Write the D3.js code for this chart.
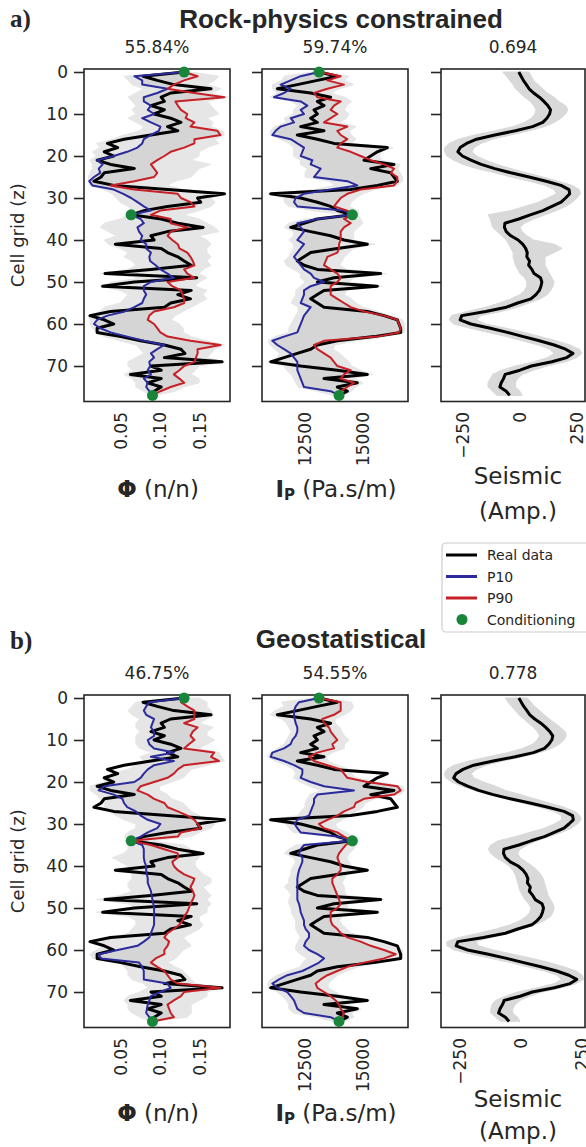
<!DOCTYPE html>
<html>
<head>
<meta charset="utf-8">
<script src="https://cdn.jsdelivr.net/npm/d3@7"></script>
<style>
  body { margin: 0; background: #fff; }
  svg { display: block; }
  text { font-family: 'DejaVu Sans', sans-serif; fill: #262626; }
</style>
</head>
<body>
<svg id="fig" width="586" height="1147"></svg>
<script>
// cell index 0..77 down the well
const cells = d3.range(78)

// real data (same in both panels)
const realPhi = [
  0.131, 0.079, 0.097, 0.118, 0.165, 0.114, 0.102, 0.106, 0.089, 0.106,
  0.093, 0.114, 0.127, 0.110, 0.123, 0.089, 0.055, 0.034, 0.047, 0.030,
  0.042, 0.021, 0.038, 0.068, 0.030, 0.026, 0.017, 0.042, 0.110, 0.182,
  0.148, 0.152, 0.110, 0.080, 0.064, 0.102, 0.123, 0.155, 0.110, 0.089,
  0.093, 0.044, 0.102, 0.110, 0.123, 0.131, 0.140, 0.089, 0.031, 0.147,
  0.068, 0.028, 0.140, 0.123, 0.139, 0.114, 0.106, 0.038, 0.012, 0.030,
  0.042, 0.021, 0.021, 0.051, 0.076, 0.106, 0.127, 0.132, 0.106, 0.179,
  0.089, 0.102, 0.063, 0.102, 0.085, 0.102, 0.093, 0.091]
const realIp = [
  13104, 13894, 13032, 12169, 11307, 12744, 13606, 13032, 13319, 12888,
  13032, 12744, 13032, 12313, 13319, 12169, 13032, 13750, 16049, 15618,
  15331, 15043, 16337, 15331, 16193, 16337, 16480, 15618, 14469, 11020,
  12313, 13032, 13606, 13894, 14541, 13032, 12457, 11882, 12744, 13606,
  14181, 15187, 13894, 12744, 12457, 12169, 12457, 13032, 15762, 13750,
  13032, 15618, 13319, 13032, 12744, 13032, 13319, 15187, 15906, 16480,
  16552, 16624, 16624, 15475, 13894, 13032, 12744, 12169, 11595, 11020,
  12313, 13894, 15187, 13319, 14756, 13894, 14325, 13966]
const realSeis = [
  -5, 5, 15, 28, 40, 60, 85, 105, 122, 134,
  130, 118, 100, 55, -20, -110, -190, -234, -262, -272,
  -252, -215, -170, -110, -40, 40, 115, 180, 215, 218,
  200, 180, 140, 100, 45, -5, -66, -68, -60, -40,
  -8, 12, 25, 32, 30, 42, 38, 52, 62, 90,
  96, 92, 85, 70, 48, -10, -60, -150, -255, -262,
  -215, -130, -55, 15, 85, 150, 200, 232, 205, 140,
  50, 0, -65, -72, -82, -88, -60, -45]

// conditioning points
const condCells = [0, 34, 77]
const condPhi = [0.131, 0.064, 0.091]
const condIp = [13104, 14541, 13966]

// a) rock-physics constrained
const aPhiP10 = [
  0.131, 0.068, 0.078, 0.078, 0.110, 0.097, 0.080, 0.080, 0.089, 0.085,
  0.093, 0.078, 0.089, 0.101, 0.099, 0.089, 0.080, 0.078, 0.072, 0.059,
  0.042, 0.021, 0.028, 0.023, 0.025, 0.017, 0.011, 0.015, 0.042, 0.054,
  0.064, 0.072, 0.080, 0.089, 0.064, 0.076, 0.080, 0.072, 0.074, 0.078,
  0.076, 0.083, 0.083, 0.089, 0.087, 0.088, 0.095, 0.101, 0.110, 0.118,
  0.089, 0.080, 0.080, 0.083, 0.080, 0.078, 0.068, 0.056, 0.034, 0.021,
  0.017, 0.025, 0.038, 0.059, 0.080, 0.106, 0.097, 0.089, 0.093, 0.087,
  0.088, 0.085, 0.089, 0.080, 0.085, 0.083, 0.087, 0.091]
const aPhiP90 = [
  0.131, 0.148, 0.131, 0.118, 0.110, 0.144, 0.182, 0.120, 0.123, 0.127,
  0.135, 0.133, 0.144, 0.139, 0.173, 0.177, 0.144, 0.144, 0.131, 0.114,
  0.106, 0.097, 0.089, 0.093, 0.097, 0.093, 0.068, 0.038, 0.068, 0.123,
  0.127, 0.139, 0.144, 0.101, 0.089, 0.114, 0.114, 0.135, 0.114, 0.110,
  0.116, 0.123, 0.125, 0.135, 0.139, 0.142, 0.144, 0.131, 0.135, 0.144,
  0.110, 0.116, 0.127, 0.129, 0.131, 0.131, 0.118, 0.093, 0.087, 0.085,
  0.093, 0.097, 0.101, 0.110, 0.139, 0.177, 0.148, 0.148, 0.146, 0.144,
  0.131, 0.125, 0.118, 0.125, 0.131, 0.114, 0.101, 0.091]
const aPhiSimMin = [
  0.120, 0.055, 0.060, 0.065, 0.080, 0.070, 0.060, 0.065, 0.070, 0.065,
  0.070, 0.060, 0.070, 0.080, 0.075, 0.055, 0.040, 0.020, 0.025, 0.015,
  0.020, 0.012, 0.015, 0.015, 0.012, 0.010, 0.010, 0.012, 0.030, 0.040,
  0.045, 0.050, 0.060, 0.065, 0.060, 0.050, 0.030, 0.025, 0.035, 0.045,
  0.030, 0.035, 0.050, 0.060, 0.055, 0.065, 0.070, 0.060, 0.025, 0.080,
  0.040, 0.025, 0.050, 0.060, 0.055, 0.050, 0.030, 0.025, 0.010, 0.012,
  0.012, 0.015, 0.020, 0.030, 0.050, 0.070, 0.075, 0.080, 0.070, 0.060,
  0.060, 0.065, 0.055, 0.065, 0.070, 0.070, 0.080, 0.088]
const aPhiSimMax = [
  0.140, 0.175, 0.170, 0.160, 0.178, 0.165, 0.185, 0.160, 0.165, 0.170,
  0.175, 0.160, 0.168, 0.165, 0.180, 0.182, 0.170, 0.175, 0.160, 0.150,
  0.150, 0.140, 0.165, 0.150, 0.145, 0.140, 0.120, 0.110, 0.130, 0.185,
  0.165, 0.170, 0.165, 0.150, 0.130, 0.150, 0.160, 0.170, 0.175, 0.150,
  0.160, 0.165, 0.160, 0.160, 0.165, 0.160, 0.165, 0.155, 0.150, 0.160,
  0.150, 0.145, 0.160, 0.155, 0.160, 0.150, 0.140, 0.130, 0.120, 0.115,
  0.125, 0.130, 0.130, 0.140, 0.160, 0.182, 0.170, 0.165, 0.160, 0.182,
  0.150, 0.145, 0.140, 0.150, 0.150, 0.130, 0.120, 0.095]
const aIpP10 = [
  13104, 12313, 11882, 11451, 11882, 11595, 11164, 12313, 12601, 12313,
  12457, 11882, 12026, 11451, 11235, 11092, 11882, 12169, 12457, 12385,
  12313, 12816, 12744, 13175, 13032, 12888, 14325, 14756, 13606, 12457,
  12098, 12026, 12169, 14181, 14541, 13032, 12169, 12313, 12457, 12313,
  12169, 12457, 12313, 12169, 12026, 12169, 12313, 12457, 12744, 12888,
  13319, 12744, 12457, 12457, 12385, 12313, 12744, 12601, 12457, 12385,
  12313, 12241, 12169, 11595, 11092, 11307, 11595, 11882, 12026, 12169,
  12169, 12169, 12241, 12313, 12385, 12457, 13606, 13966]
const aIpP90 = [
  13104, 14038, 13463, 14181, 13463, 12888, 13032, 14038, 13750, 13606,
  13894, 13606, 13319, 14325, 13894, 14038, 14325, 14038, 13894, 14469,
  14900, 15331, 15906, 16337, 16193, 16480, 16480, 16337, 14900, 14325,
  14038, 13894, 13750, 14325, 14541, 14181, 14469, 14181, 14038, 14038,
  14038, 13966, 13966, 13894, 13463, 13391, 13319, 13606, 13894, 14038,
  13894, 13606, 13606, 13606, 13894, 14181, 14469, 15043, 15906, 16480,
  16552, 16624, 16552, 15618, 13319, 12888, 13032, 13319, 13606, 13750,
  13894, 14469, 14181, 14038, 14612, 14325, 14038, 13966]
const aIpSimMin = [
  12800, 11600, 11500, 11100, 11100, 11300, 11000, 11900, 12200, 12000,
  12000, 11600, 11700, 11200, 11000, 11000, 11400, 11800, 12000, 12000,
  12000, 12300, 12300, 12600, 12500, 12500, 13500, 13800, 12900, 10900,
  11600, 11600, 11800, 12800, 14200, 12500, 11800, 11600, 12000, 12000,
  11800, 12000, 12000, 11900, 11800, 11600, 11700, 12000, 12300, 12300,
  12500, 12300, 12100, 12100, 12000, 11900, 12200, 12200, 12100, 12000,
  11900, 11800, 11800, 11200, 10900, 11000, 11200, 11400, 11300, 10900,
  11600, 11700, 11900, 12000, 12100, 12200, 13000, 13700]
const aIpSimMax = [
  13400, 14400, 14200, 14600, 14000, 13600, 14200, 14500, 14300, 14200,
  14400, 14300, 14000, 14700, 14400, 14500, 14700, 14500, 16300, 15800,
  15700, 15800, 16600, 16500, 16600, 16700, 16700, 16500, 15500, 15000,
  14700, 14500, 14400, 14800, 14800, 14900, 15000, 14800, 14600, 14600,
  14600, 15500, 14600, 14400, 14200, 14100, 14000, 14300, 16000, 14600,
  14400, 15800, 14300, 14200, 14500, 14700, 15000, 15600, 16200, 16700,
  16800, 16800, 16800, 16000, 14700, 13800, 13700, 14000, 14200, 14400,
  14500, 14900, 15400, 14600, 15000, 14700, 14500, 14100]
const aSeisSimMin = [
  -75, -60, -45, -30, -20, 0, 20, 45, 60, 70,
  65, 50, 20, -30, -110, -200, -270, -310, -330, -330,
  -320, -290, -250, -190, -110, -40, 40, 110, 150, 160,
  120, 80, 20, -40, -140, -130, -125, -120, -100, -80,
  -60, -50, -40, -30, -30, -25, -20, -10, 0, 20,
  30, 30, 20, 0, -40, -90, -150, -230, -300, -310,
  -290, -220, -140, -60, 10, 80, 130, 150, 120, 60,
  -20, -80, -120, -130, -140, -140, -120, -100]
const aSeisSimMax = [
  40, 50, 60, 80, 100, 120, 150, 170, 200, 210,
  200, 180, 150, 110, 40, -40, -120, -170, -200, -210,
  -190, -150, -100, -40, 30, 100, 170, 230, 260, 265,
  250, 230, 200, 160, 110, 60, 20, 0, 10, 30,
  60, 150, 185, 150, 110, 110, 110, 120, 130, 140,
  150, 145, 135, 120, 90, 40, -10, -80, -170, -190,
  -150, -60, 20, 90, 160, 220, 260, 270, 250, 200,
  120, 60, 10, -10, -20, -20, 0, 10]

// b) geostatistical
const bPhiP10 = [
  0.131, 0.087, 0.083, 0.080, 0.083, 0.093, 0.091, 0.089, 0.093, 0.093,
  0.085, 0.087, 0.093, 0.118, 0.089, 0.118, 0.093, 0.085, 0.080, 0.076,
  0.068, 0.030, 0.023, 0.042, 0.053, 0.055, 0.059, 0.070, 0.076, 0.085,
  0.101, 0.097, 0.085, 0.076, 0.064, 0.078, 0.080, 0.080, 0.080, 0.081,
  0.083, 0.083, 0.084, 0.085, 0.085, 0.087, 0.089, 0.090, 0.091, 0.092,
  0.093, 0.093, 0.093, 0.093, 0.093, 0.091, 0.089, 0.087, 0.080, 0.072,
  0.047, 0.023, 0.026, 0.074, 0.078, 0.080, 0.080, 0.080, 0.110, 0.114,
  0.101, 0.089, 0.087, 0.085, 0.084, 0.083, 0.087, 0.091]
const bPhiP90 = [
  0.131, 0.127, 0.135, 0.144, 0.144, 0.144, 0.131, 0.148, 0.142, 0.139,
  0.144, 0.137, 0.131, 0.169, 0.165, 0.175, 0.131, 0.123, 0.118, 0.110,
  0.093, 0.076, 0.072, 0.085, 0.093, 0.106, 0.110, 0.123, 0.135, 0.144,
  0.148, 0.152, 0.127, 0.123, 0.064, 0.089, 0.106, 0.123, 0.123, 0.116,
  0.118, 0.123, 0.131, 0.144, 0.142, 0.139, 0.142, 0.144, 0.142, 0.139,
  0.137, 0.135, 0.131, 0.129, 0.125, 0.118, 0.110, 0.106, 0.112, 0.110,
  0.106, 0.106, 0.095, 0.089, 0.097, 0.106, 0.110, 0.114, 0.123, 0.177,
  0.131, 0.127, 0.118, 0.110, 0.112, 0.114, 0.118, 0.091]
const bPhiSimMin = [
  0.120, 0.070, 0.065, 0.060, 0.065, 0.075, 0.070, 0.070, 0.075, 0.070,
  0.070, 0.070, 0.075, 0.090, 0.075, 0.080, 0.070, 0.060, 0.040, 0.030,
  0.030, 0.012, 0.012, 0.020, 0.025, 0.030, 0.030, 0.035, 0.045, 0.055,
  0.070, 0.070, 0.060, 0.055, 0.060, 0.060, 0.060, 0.055, 0.040, 0.050,
  0.060, 0.060, 0.065, 0.065, 0.060, 0.060, 0.065, 0.050, 0.020, 0.060,
  0.070, 0.020, 0.060, 0.070, 0.070, 0.065, 0.060, 0.040, 0.010, 0.030,
  0.020, 0.012, 0.015, 0.050, 0.055, 0.060, 0.060, 0.065, 0.080, 0.085,
  0.075, 0.060, 0.055, 0.060, 0.060, 0.065, 0.075, 0.088]
const bPhiSimMax = [
  0.150, 0.160, 0.160, 0.165, 0.168, 0.160, 0.150, 0.168, 0.160, 0.160,
  0.170, 0.160, 0.150, 0.175, 0.178, 0.182, 0.160, 0.140, 0.135, 0.130,
  0.115, 0.100, 0.100, 0.110, 0.115, 0.130, 0.135, 0.140, 0.150, 0.160,
  0.170, 0.165, 0.150, 0.140, 0.090, 0.130, 0.140, 0.150, 0.150, 0.145,
  0.145, 0.150, 0.155, 0.165, 0.165, 0.155, 0.160, 0.165, 0.160, 0.165,
  0.160, 0.160, 0.150, 0.150, 0.155, 0.150, 0.140, 0.130, 0.135, 0.140,
  0.130, 0.125, 0.120, 0.110, 0.120, 0.130, 0.135, 0.140, 0.145, 0.180,
  0.160, 0.160, 0.150, 0.140, 0.140, 0.140, 0.135, 0.095]
const bIpP10 = [
  13104, 12241, 12098, 12026, 12026, 12055, 12098, 12169, 12169, 12098,
  11954, 11882, 11595, 11092, 11020, 11595, 12026, 12385, 12385, 12313,
  12744, 13319, 14612, 13032, 12888, 12888, 12816, 12744, 12672, 12169,
  12055, 12169, 12313, 13894, 14541, 12457, 12313, 12241, 12385, 12385,
  12313, 12241, 12198, 12169, 12169, 12169, 12169, 12169, 12169, 12241,
  12284, 12313, 12385, 12457, 12457, 12529, 12672, 12672, 12529, 12457,
  12672, 13032, 13319, 13104, 12744, 12385, 11738, 11379, 11092, 11307,
  11738, 11882, 12026, 12098, 12169, 12457, 13606, 13966]
const bIpP90 = [
  13104, 14038, 14038, 14038, 13750, 13247, 13319, 13535, 13606, 13750,
  13894, 13678, 13750, 13032, 12672, 12888, 13463, 14038, 14181, 14325,
  15187, 16480, 16624, 16337, 15043, 14684, 14612, 14181, 13894, 13463,
  13104, 13319, 13894, 14181, 14541, 14253, 14109, 13966, 13894, 13966,
  14038, 14038, 13894, 13678, 13678, 13750, 13822, 13894, 13966, 14038,
  13894, 13606, 13606, 13606, 13678, 13894, 14038, 14325, 14900, 15331,
  15906, 16409, 15906, 15043, 14325, 13894, 13463, 13175, 12960, 13032,
  13319, 13606, 13822, 13966, 14038, 14181, 14109, 13966]
const bIpSimMin = [
  12800, 11500, 11600, 11200, 11000, 11500, 11700, 11800, 11900, 11800,
  11700, 11600, 11300, 11000, 10900, 11200, 11700, 12000, 12100, 12000,
  12300, 12700, 13200, 12700, 12600, 12500, 12500, 12300, 12200, 10900,
  11700, 11800, 12000, 13500, 14200, 12100, 11800, 11600, 12000, 12100,
  12000, 11900, 11900, 11800, 11800, 11600, 11800, 11900, 11800, 11800,
  11900, 11900, 12000, 12100, 12100, 12100, 12200, 12300, 12200, 12100,
  12100, 12300, 12600, 12400, 12300, 11800, 11300, 11000, 10900, 10900,
  11300, 11500, 11700, 11800, 11800, 12000, 13000, 13700]
const bIpSimMax = [
  13400, 14500, 14600, 14500, 14200, 13800, 13800, 14000, 14100, 14200,
  14400, 14200, 14200, 13700, 13400, 13500, 13900, 14400, 14500, 14700,
  15600, 16700, 16800, 16600, 15500, 15100, 15000, 14700, 14400, 14100,
  13800, 13900, 14300, 14600, 14800, 14700, 14600, 14400, 14300, 14400,
  14500, 14600, 14300, 14200, 14100, 14200, 14200, 14300, 15900, 14400,
  14300, 15700, 14100, 14000, 14100, 14300, 14500, 15300, 15900, 16500,
  16700, 16700, 16700, 15600, 14800, 14300, 13900, 13700, 13500, 13500,
  13800, 14200, 15300, 14300, 14900, 14500, 14600, 14200]
const bSeisSimMin = [
  -60, -50, -35, -20, -5, 15, 35, 55, 70, 80,
  70, 50, 10, -50, -130, -210, -270, -300, -310, -305,
  -280, -240, -190, -130, -60, 10, 80, 140, 170, 170,
  140, 100, 40, -20, -90, -120, -130, -120, -100, -70,
  -45, -30, -20, -15, -10, -5, 0, 10, 20, 35,
  45, 40, 25, 0, -40, -100, -170, -250, -300, -300,
  -270, -200, -120, -40, 30, 100, 150, 170, 140, 70,
  -10, -60, -100, -115, -120, -120, -100, -80]
const bSeisSimMax = [
  30, 45, 60, 80, 100, 120, 145, 165, 185, 190,
  180, 160, 130, 80, 10, -70, -140, -180, -200, -190,
  -150, -100, -60, 0, 60, 120, 180, 225, 245, 250,
  235, 210, 170, 120, 70, 30, 0, -10, 0, 25,
  50, 70, 85, 95, 100, 105, 110, 115, 125, 135,
  140, 135, 125, 100, 60, 10, -50, -120, -180, -170,
  -110, -30, 50, 120, 180, 230, 255, 260, 230, 170,
  90, 40, 0, -20, -30, -30, -10, 0]

const titles = ['Rock-physics constrained', 'Geostatistical']
const panelTags = ['a)', 'b)']
const scoreLabels = [['55.84%', '59.74%', '0.694'], ['46.75%', '54.55%', '0.778']]
const phiTicks = [0.05, 0.1, 0.15]
const ipTicks = [12500, 15000]
const seisTicks = [-250, 0, 250]
const depthTicks = [0, 10, 20, 30, 40, 50, 60, 70]

const C = { real: '#000000', p10: '#2b2b9c', p90: '#c62026', cond: '#19853a', sim: '#e6e6e6', band: '#d5d5d5', ink: '#262626' }

const svg = d3.select('#fig')
let clipId = 0

const panels = [
  { dy: 0, titleY: 28, tagY: 27, labDy: [95.5, 82.5, 117.5], phi: [aPhiP10, aPhiP90, aPhiSimMin, aPhiSimMax], ip: [aIpP10, aIpP90, aIpSimMin, aIpSimMax], seis: [aSeisSimMin, aSeisSimMax], seisDomain: [-346, 285] },
  { dy: 626, titleY: 648, tagY: 649, labDy: [93.5, 79.5, 111], phi: [bPhiP10, bPhiP90, bPhiSimMin, bPhiSimMax], ip: [bIpP10, bIpP90, bIpSimMin, bIpSimMax], seis: [bSeisSimMin, bSeisSimMax], seisDomain: [-324, 266] },
]

panels.forEach((p, k) => drawPanel(p, k))
drawLegend()

function drawPanel(p, k) {
  const top = 69 + p.dy, bottom = 401.5 + p.dy
  const y = d3.scaleLinear().domain([-0.714, 78.45]).range([top, bottom])

  svg.append('text').attr('x', 10).attr('y', p.tagY)
    .style('font-family', "'Liberation Serif', serif").style('font-weight', 'bold').style('font-size', '25px').attr('fill', '#111')
    .text(panelTags[k])
  svg.append('text').attr('x', 341).attr('y', p.titleY).attr('text-anchor', 'middle')
    .style('font-family', "'Liberation Sans', Arial, sans-serif").style('font-weight', 'bold').style('font-size', '26px')
    .text(titles[k])

  svg.append('text')
    .attr('transform', `translate(24,${(top + bottom) / 2}) rotate(-90)`)
    .attr('text-anchor', 'middle').style('font-size', '18px')
    .text('Cell grid (z)')

  const xPhi = d3.scaleLinear().domain([0.0044, 0.189]).range([84, 230])
  const xIp = d3.scaleLinear().domain([10646, 16940]).range([262, 408])
  const xSeis = d3.scaleLinear().domain(p.seisDomain).range([441, 585])

  const g1 = frame(xPhi, y, top, bottom, true, phiTicks, d3.format('.2f'), scoreLabels[k][0])
  propCurves(g1, xPhi, y, realPhi, p.phi, condPhi)
  const g2 = frame(xIp, y, top, bottom, false, ipTicks, d3.format('d'), scoreLabels[k][1])
  propCurves(g2, xIp, y, realIp, p.ip, condIp)
  const g3 = frame(xSeis, y, top, bottom, false, seisTicks, d3.format('d'), scoreLabels[k][2])
  seisCurves(g3, xSeis, y, p.seis)

  // axis labels
  const lab = bottom + p.labDy[0]
  const t1 = svg.append('text').attr('x', 158).attr('y', lab).attr('text-anchor', 'middle').style('font-size', '23px')
  t1.append('tspan').style('font-weight', 'bold').text('Φ')
  t1.append('tspan').text(' (n/n)')
  const t2 = svg.append('text').attr('x', 336).attr('y', lab).attr('text-anchor', 'middle').style('font-size', '23px')
  t2.append('tspan').style('font-weight', 'bold').text('I')
  t2.append('tspan').style('font-weight', 'bold').style('font-size', '15px').attr('dy', 3).text('P')
  t2.append('tspan').attr('dy', -3).text(' (Pa.s/m)')
  svg.append('text').attr('x', 518).attr('y', bottom + p.labDy[1]).attr('text-anchor', 'middle').style('font-size', '23px').text('Seismic')
  svg.append('text').attr('x', 518).attr('y', bottom + p.labDy[2]).attr('text-anchor', 'middle').style('font-size', '23px').text('(Amp.)')
}

function frame(x, y, top, bottom, withLabels, ticks, fmt, score) {
  const [x0, x1] = x.range()
  const g = svg.append('g')

  const yAxis = g.append('g').attr('transform', `translate(${x0},0)`)
    .call(d3.axisLeft(y).tickValues(depthTicks).tickSize(10).tickPadding(6).tickFormat(withLabels ? d3.format('d') : ''))
  yAxis.select('.domain').remove()
  yAxis.selectAll('line').attr('stroke', C.ink).attr('stroke-width', 1.6)
  yAxis.selectAll('text').attr('fill', C.ink).style('font-size', '17px').style('font-family', "'DejaVu Sans', sans-serif")

  const xAxis = g.append('g').attr('transform', `translate(0,${bottom})`)
    .call(d3.axisBottom(x).tickValues(ticks).tickSize(0).tickFormat(fmt))
  xAxis.select('.domain').remove()
  xAxis.selectAll('text')
    .attr('transform', 'rotate(-90)').attr('text-anchor', 'end')
    .attr('x', -10.5).attr('y', 0).attr('dy', '0.35em')
    .attr('fill', C.ink).style('font-size', '17px').style('font-family', "'DejaVu Sans', sans-serif")

  svg.append('text').attr('x', (x0 + x1) / 2).attr('y', top - 16).attr('text-anchor', 'middle')
    .style('font-size', '17px').text(score)

  const id = 'clip' + clipId++
  g.append('clipPath').attr('id', id).append('rect')
    .attr('x', x0).attr('y', top).attr('width', x1 - x0).attr('height', bottom - top)
  const inner = g.append('g').attr('clip-path', `url(#${id})`)

  g.append('rect').attr('x', x0).attr('y', top).attr('width', x1 - x0).attr('height', bottom - top)
    .attr('fill', 'none').attr('stroke', C.ink).attr('stroke-width', 1.6)
  inner.outer = g
  return inner
}

function band(g, x, y, lo, hi, fill) {
  g.append('path').datum(cells)
    .attr('d', d3.area().y((i) => y(i)).x0((i) => x(lo[i])).x1((i) => x(hi[i])))
    .attr('fill', fill).attr('stroke', fill).attr('stroke-width', 1)
}

function curve(g, x, y, vals, color, w) {
  g.append('path').datum(cells)
    .attr('d', d3.line().y((i) => y(i)).x((i) => x(vals[i])))
    .attr('fill', 'none').attr('stroke', color).attr('stroke-width', w).attr('stroke-linejoin', 'round')
}

function propCurves(g, x, y, real, sims, cond) {
  const [p10, p90, smin, smax] = sims
  band(g, x, y, smin, smax, C.sim)
  band(g, x, y, p10, p90, C.band)
  curve(g, x, y, real, C.real, 3)
  curve(g, x, y, p10, C.p10, 2)
  curve(g, x, y, p90, C.p90, 2)
  g.outer.selectAll('circle.cond').data(condCells).enter().append('circle')
    .attr('class', 'cond')
    .attr('cx', (d, i) => x(cond[i])).attr('cy', (d) => y(d)).attr('r', 5.5)
    .attr('fill', C.cond)
}

function seisCurves(g, x, y, sims) {
  band(g, x, y, sims[0], sims[1], '#d9d9d9')
  curve(g, x, y, realSeis, C.real, 3)
}

function drawLegend() {
  const lg = svg.append('g')
  lg.append('rect').attr('x', 442).attr('y', 543).attr('width', 160).attr('height', 89).attr('rx', 4)
    .attr('fill', '#fff').attr('stroke', '#cccccc').attr('stroke-width', 1.2)
  const items = [['Real data', C.real, 'line'], ['P10', C.p10, 'line'], ['P90', C.p90, 'line'], ['Conditioning', C.cond, 'dot']]
  items.forEach((it, i) => {
    const cy = 555 + i * 21.5
    if (it[2] === 'line') {
      lg.append('line').attr('x1', 446).attr('x2', 477).attr('y1', cy).attr('y2', cy)
        .attr('stroke', it[1]).attr('stroke-width', 3)
    } else {
      lg.append('circle').attr('cx', 462).attr('cy', cy).attr('r', 5.5).attr('fill', it[1])
    }
    lg.append('text').attr('x', 487).attr('y', cy + 5).style('font-size', '14px').text(it[0])
  })
}
</script>
</body>
</html>
